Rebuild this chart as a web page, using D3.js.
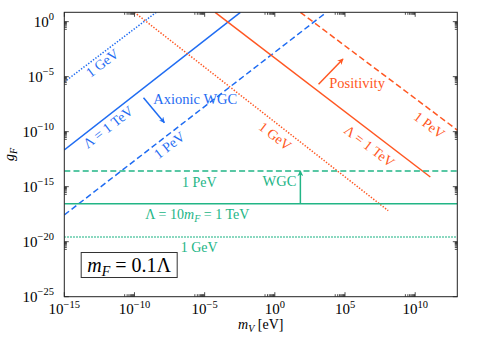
<!DOCTYPE html>
<html>
<head>
<meta charset="utf-8">
<script src="https://cdn.jsdelivr.net/npm/d3@7"></script>
<style>
  body { margin: 0; background: #fff; }
  svg { display: block; font-family: "Liberation Serif", "DejaVu Serif", serif; }
</style>
</head>
<body>
<div id="chart"></div>
<script>
'use strict';

// values (m_V in eV, g_F dimensionless)
var lineStyles = ["dotted", "solid", "dashed"];
var lambdaText = ["1 GeV", "\u039B = 1 TeV", "1 PeV"];

// axionic WGC lines, one per cutoff: [m_V, g_F] end points
var axionicWGC = [
    [[1e-15, 3.3e-6], [3.5e-9, 7]],
    [[1e-15, 2.2e-12], [3.5e-3, 7]],
    [[1e-15, 2.7e-18], [4.7e3, 7]]
];
// positivity lines, ending at m_V = m_F
var positivity = [
    [[1e-10, 7], [1.2e8, 6.6e-18]],
    [[5.6e-5, 7], [1.2e11, 7.6e-15]],
    [[66, 7], [1e13, 1.4e-10]]
];
// WGC bound g_F (horizontal): 1 PeV, 1 TeV, 1 GeV
var wgcBound = [2.7e-14, 2.8e-17, 2.7e-20];
var wgcStyles = ["dashed", "solid", "dotted"];

var xTicks = [1e-15, 1e-10, 1e-5, 1e0, 1e5, 1e10];
var yTicks = [1e-25, 1e-20, 1e-15, 1e-10, 1e-5, 1e0];

(function() {
var blue = "#1f6cf2", orange = "#ff5722", green = "#22b586";

var width = 479, height = 338;
var pLeft = 64.3, pRight = 457.3, pTop = 12.3, pBottom = 296.7;

var x = d3.scaleLog().domain([1e-15, 1e13]).range([pLeft, pRight]);
var y = d3.scaleLog().domain([1e-25, Math.pow(10, 0.85)]).range([pBottom, pTop]);

var svg = d3.select("#chart").append("svg")
    .attr("width", width)
    .attr("height", height);

var defs = svg.append("defs");
defs.append("clipPath").attr("id", "plot")
    .append("rect")
    .attr("x", pLeft).attr("y", pTop)
    .attr("width", pRight - pLeft).attr("height", pBottom - pTop);

[["b", blue], ["o", orange], ["g", green]].forEach(function(m) {
    defs.append("marker")
	.attr("id", "arrow-" + m[0])
	.attr("viewBox", "0 0 10 10")
	.attr("refX", 9).attr("refY", 5)
	.attr("markerWidth", 7).attr("markerHeight", 6)
	.attr("markerUnits", "userSpaceOnUse")
	.attr("orient", "auto")
	.append("path")
	.attr("d", "M0,0 L10,5 L0,10 L3,5 Z")
	.attr("fill", m[1]);
});

var dash = { solid: null, dashed: "6,3.2", dotted: "1.4,1.6" };

var g = svg.append("g").attr("clip-path", "url(#plot)");
var line = d3.line().x(function(d) { return x(d[0]); }).y(function(d) { return y(d[1]); });

function drawLines(data, color, styles) {
    g.selectAll(null)
	.data(data)
	.enter()
	.append("path")
	.attr("d", line)
	.attr("fill", "none")
	.attr("stroke", color)
	.attr("stroke-width", 1.5)
	.attr("stroke-dasharray", function(d, i) { return dash[styles[i]]; });
}
drawLines(axionicWGC, blue, lineStyles);
drawLines(positivity, orange, lineStyles);
drawLines(wgcBound.map(function(v) { return [[1e-15, v], [1e13, v]]; }), green, wgcStyles);

// arrows
function arrow(p0, p1, color, id) {
    g.append("line")
	.attr("x1", x(p0[0])).attr("y1", y(p0[1]))
	.attr("x2", x(p1[0])).attr("y2", y(p1[1]))
	.attr("stroke", color)
	.attr("stroke-width", 1.5)
	.attr("marker-end", "url(#arrow-" + id + ")");
}
arrow([4.4e-10, 1.2e-7], [1.35e-8, 6.6e-10], blue, "b");
arrow([1.3e3, 2.0e-6], [7.2e4, 4.1e-4], orange, "o");
arrow([66, wgcBound[1]], [66, wgcBound[0]], green, "g");

// labels along the sloped lines
function angleOf(pts) {
    return Math.atan2(y(pts[1][1]) - y(pts[0][1]), x(pts[1][0]) - x(pts[0][0])) * 180 / Math.PI;
}
function slopedLabel(pos, txt, pts, color) {
    var px = x(pos[0]), py = y(pos[1]);
    svg.append("text")
	.attr("transform", "translate(" + px + "," + py + ") rotate(" + angleOf(pts) + ")")
	.attr("text-anchor", "middle")
	.attr("dy", "0.35em")
	.attr("font-size", 14)
	.attr("fill", color)
	.text(txt);
}
var axionLabelPos = [[5e-13, 1.8e-4], [1.3e-12, 2.7e-10], [3e-8, 6.2e-12]];
var posLabelPos = [[1.07, 4.1e-11], [5.5e6, 5e-12], [1.05e11, 4.1e-10]];
axionicWGC.forEach(function(pts, i) { slopedLabel(axionLabelPos[i], lambdaText[i], pts, blue); });
positivity.forEach(function(pts, i) { slopedLabel(posLabelPos[i], lambdaText[i], pts, orange); });

// plain labels
function label(pos, color, anchor, size) {
    return svg.append("text")
	.attr("x", x(pos[0])).attr("y", y(pos[1]))
	.attr("text-anchor", anchor)
	.attr("font-size", size)
	.attr("fill", color);
}
label([2.2e-9, 3.3e-8], blue, "start", 14.5).text("Axionic WGC");
label([7.6e3, 9.3e-7], orange, "start", 14.5).text("Positivity");
label([34, 1.15e-15], green, "end", 14.5).text("WGC");
label([4.1e-6, 9.3e-16], green, "middle", 14).text("1 PeV");
label([4.1e-6, 1.15e-21], green, "middle", 14).text("1 GeV");
var lt = label([3.0e-6, 1.15e-18], green, "middle", 14);
lt.append("tspan").text("\u039B = 10");
lt.append("tspan").attr("font-style", "italic").text("m");
lt.append("tspan").attr("font-style", "italic").attr("font-size", 10).attr("dy", 3).text("F");
lt.append("tspan").attr("dy", -3).text(" = 1 TeV");

// m_F = 0.1 Lambda box
var bx = x(4.2e-11), by = y(7.6e-23);
svg.append("rect")
    .attr("x", bx - 48).attr("y", by - 12.5)
    .attr("width", 96).attr("height", 25)
    .attr("fill", "#fff")
    .attr("stroke", "#333")
    .attr("stroke-width", 1);
var bt = svg.append("text")
    .attr("x", bx).attr("y", by + 6.5)
    .attr("text-anchor", "middle")
    .attr("font-size", 20)
    .attr("fill", "#000");
bt.append("tspan").attr("font-style", "italic").text("m");
bt.append("tspan").attr("font-style", "italic").attr("font-size", 14).attr("dy", 4).text("F");
bt.append("tspan").attr("dy", -4).text(" = 0.1\u039B");

// frame
svg.append("rect")
    .attr("x", pLeft).attr("y", pTop)
    .attr("width", pRight - pLeft).attr("height", pBottom - pTop)
    .attr("fill", "none")
    .attr("stroke", "#222")
    .attr("stroke-width", 1);

// ticks, pointing inward on all four sides
function minors(ticks, scale) {
    var out = [], d = scale.domain();
    ticks.forEach(function(t) {
	for (var k = 2; k <= 9; k++) {
	    var v = k * t / 10;
	    if (v > d[0] && v < d[1]) out.push(v);
	}
    });
    return out;
}
var tk = svg.append("g").attr("stroke", "#222").attr("stroke-width", 0.8);
function xTickMarks(vals, len) {
    vals.forEach(function(v) {
	tk.append("line").attr("x1", x(v)).attr("x2", x(v)).attr("y1", pBottom).attr("y2", pBottom - len);
	tk.append("line").attr("x1", x(v)).attr("x2", x(v)).attr("y1", pTop).attr("y2", pTop + len);
    });
}
function yTickMarks(vals, len) {
    vals.forEach(function(v) {
	tk.append("line").attr("y1", y(v)).attr("y2", y(v)).attr("x1", pLeft).attr("x2", pLeft + len);
	tk.append("line").attr("y1", y(v)).attr("y2", y(v)).attr("x1", pRight).attr("x2", pRight - len);
    });
}
xTickMarks(xTicks, 4.5);
xTickMarks(minors(xTicks, x), 2.5);
yTickMarks(yTicks, 4.5);
yTickMarks(minors(yTicks, y), 2.5);

function expLabel(sel, v) {
    var e = Math.round(Math.log10(v));
    sel.append("tspan").text("10");
    sel.append("tspan").attr("font-size", 10.5).attr("dy", -6.5).text(e < 0 ? "\u2212" + (-e) : e);
}
xTicks.forEach(function(v) {
    var t = svg.append("text")
	.attr("x", x(v)).attr("y", 314)
	.attr("text-anchor", "middle")
	.attr("font-size", 15);
    expLabel(t, v);
});
yTicks.forEach(function(v) {
    var t = svg.append("text")
	.attr("x", 54).attr("y", y(v) + 5)
	.attr("text-anchor", "end")
	.attr("font-size", 15);
    expLabel(t, v);
});

// axis titles
var xt = svg.append("text")
    .attr("x", (pLeft + pRight) / 2).attr("y", 329)
    .attr("text-anchor", "middle")
    .attr("font-size", 14);
xt.append("tspan").attr("font-style", "italic").text("m");
xt.append("tspan").attr("font-style", "italic").attr("font-size", 10).attr("dy", 3).text("V");
xt.append("tspan").attr("dy", -3).text(" [eV]");

var yt = svg.append("text")
    .attr("transform", "translate(14," + ((pTop + pBottom) / 2) + ") rotate(-90)")
    .attr("text-anchor", "middle")
    .attr("font-size", 14);
yt.append("tspan").attr("font-style", "italic").text("g");
yt.append("tspan").attr("font-style", "italic").attr("font-size", 10).attr("dy", 3).text("F");
})();
</script>
</body>
</html>
